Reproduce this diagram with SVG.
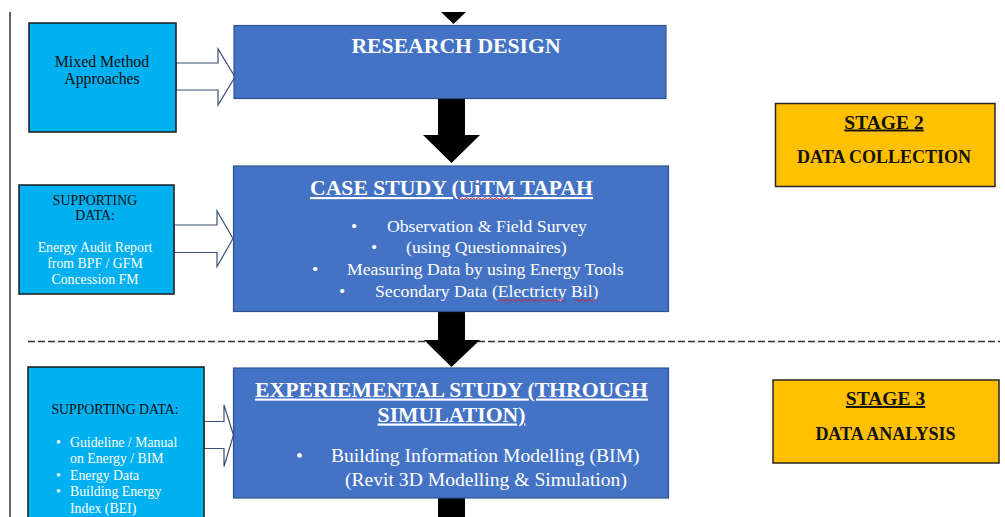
<svg xmlns="http://www.w3.org/2000/svg" width="1005" height="517" viewBox="0 0 1005 517">
<style>
.side{fill:#00B0F0;stroke:#1a1a1a;stroke-width:1.5}
.main{fill:#4472C4;stroke:#2F528F;stroke-width:1.2}
.stage{fill:#FFC000;stroke:#262626;stroke-width:1.5}
.hollow{fill:#ffffff;stroke:#3A4F7A;stroke-width:1.2;stroke-linejoin:miter}
.solid{fill:#000000}
.t{font-family:"Liberation Serif","Times New Roman",serif}
.title{font-size:21.7px;font-weight:bold;fill:#ffffff;text-anchor:middle}
.body{font-size:17.7px;fill:#ffffff}
.body2{font-size:19.6px;fill:#ffffff}
.dark{font-size:13.8px;fill:#111111}
.white{font-size:13.8px;fill:#ffffff}
.stg{font-size:19.5px;font-weight:bold;fill:#111111;text-anchor:middle;text-decoration:underline}
.stl{font-size:18px;font-weight:bold;fill:#111111;text-anchor:middle}
.squig{fill:none;stroke:#E0202A;stroke-width:1}
</style>
<rect width="1005" height="517" fill="#ffffff"/>
<line x1="10" y1="12" x2="10" y2="517" stroke="#404040" stroke-width="1.6"/>
<line x1="28" y1="341.5" x2="1000" y2="341.5" stroke="#333333" stroke-width="1.3" stroke-dasharray="7 3"/>
<g id="connectors">
  <path class="hollow" d="M176,63 H218 V49 L235,77 L218,105 V90 H176 Z"/>
  <path class="hollow" d="M174,225 H217 V211 L233,238.5 L217,266.5 V252.5 H174 Z"/>
  <path class="hollow" d="M204,421.5 H224 V405 L233.5,435 L224,466.5 V448.5 H204 Z"/>
  <path class="solid" d="M441,12 H466 L453.5,24 Z"/>
  <path class="solid" d="M438,99 H465 V135 H480 L451.5,163 L423,135 H438 Z"/>
  <path class="solid" d="M438,312 H465 V340 H480 L451.5,367 L424,340 H438 Z"/>
  <rect class="solid" x="438" y="498" width="27" height="19"/>
</g>
<g id="mixed-method">
  <rect class="side" x="29" y="23" width="147" height="109"/>
  <text class="t" x="102" y="67" font-size="15.8px" fill="#111111" text-anchor="middle">Mixed Method</text>
  <text class="t" x="102" y="84" font-size="15.8px" fill="#111111" text-anchor="middle">Approaches</text>
</g>
<g id="supporting-data-1">
  <rect class="side" x="19" y="185" width="155" height="109"/>
  <text class="t dark" x="95" y="205" text-anchor="middle">SUPPORTING</text>
  <text class="t dark" x="95" y="220" text-anchor="middle">DATA:</text>
  <text class="t white" x="95" y="252" text-anchor="middle">Energy Audit Report</text>
  <text class="t white" x="95" y="268" text-anchor="middle">from BPF / GFM</text>
  <text class="t white" x="95" y="283.5" text-anchor="middle">Concession FM</text>
</g>
<g id="supporting-data-2">
  <rect class="side" x="28" y="367" width="176" height="160"/>
  <text class="t dark" x="115" y="414" text-anchor="middle">SUPPORTING DATA:</text>
  <text class="t white" x="58.5" y="446.5" text-anchor="middle">•</text>
  <text class="t white" x="70" y="446.5">Guideline / Manual</text>
  <text class="t white" x="70" y="463">on Energy / BIM</text>
  <text class="t white" x="58.5" y="479.5" text-anchor="middle">•</text>
  <text class="t white" x="70" y="479.5">Energy Data</text>
  <text class="t white" x="58.5" y="496" text-anchor="middle">•</text>
  <text class="t white" x="70" y="496">Building Energy</text>
  <text class="t white" x="70" y="512.5">Index (BEI)</text>
</g>
<g id="research-design">
  <rect class="main" x="234" y="25.5" width="432" height="73"/>
  <text class="t title" x="456" y="52.5">RESEARCH DESIGN</text>
</g>
<g id="case-study">
  <rect class="main" x="233.5" y="166" width="435" height="145.5"/>
  <text class="t title" x="451.5" y="195" text-decoration="underline">CASE STUDY (UiTM TAPAH</text>
  <path class="squig" d="M459,198.5 q1.5,-2 3,0 t3,0 t3,0 t3,0 t3,0 t3,0 t3,0 t3,0 t3,0 t3,0 t3,0 t3,0 t3,0 t3,0 t3,0 t3,0 t3,0 t3,0"/>
  <text class="t body" x="354" y="232" text-anchor="middle">•</text>
  <text class="t body" x="387" y="232">Observation &amp; Field Survey</text>
  <text class="t body" x="374" y="253" text-anchor="middle">•</text>
  <text class="t body" x="406" y="253">(using Questionnaires)</text>
  <text class="t body" x="315" y="275" text-anchor="middle">•</text>
  <text class="t body" x="347" y="275">Measuring Data by using Energy Tools</text>
  <text class="t body" x="342" y="296.5" text-anchor="middle">•</text>
  <text class="t body" x="375" y="296.5">Secondary Data (Electricty Bil)</text>
  <path class="squig" d="M499,300.5 q1.5,-2 3,0 t3,0 t3,0 t3,0 t3,0 t3,0 t3,0 t3,0 t3,0 t3,0 t3,0 t3,0 t3,0 t3,0 t3,0 t3,0 t3,0 t3,0 t3,0 t3,0 t3,0 t3,0"/>
  <path class="squig" d="M575,300.5 q1.5,-2 3,0 t3,0 t3,0 t3,0 t3,0 t3,0 t3,0"/>
</g>
<g id="experimental-study">
  <rect class="main" x="233.5" y="368" width="435" height="130"/>
  <text class="t title" x="451.5" y="396.5" text-decoration="underline">EXPERIEMENTAL STUDY (THROUGH</text>
  <text class="t title" x="451.5" y="421.5" text-decoration="underline">SIMULATION)</text>
  <text class="t body2" x="299.5" y="462" text-anchor="middle">•</text>
  <text class="t body2" x="331" y="462">Building Information Modelling (BIM)</text>
  <text class="t body2" x="345" y="485.5">(Revit 3D Modelling &amp; Simulation)</text>
</g>
<g id="stage-2">
  <rect class="stage" x="775.5" y="103.5" width="219.5" height="83"/>
  <text class="t stg" x="884" y="128.5">STAGE 2</text>
  <text class="t stl" x="884" y="163">DATA COLLECTION</text>
</g>
<g id="stage-3">
  <rect class="stage" x="773" y="380" width="226" height="83"/>
  <text class="t stg" x="885.5" y="405">STAGE 3</text>
  <text class="t stl" x="885.5" y="440">DATA ANALYSIS</text>
</g>
</svg>
